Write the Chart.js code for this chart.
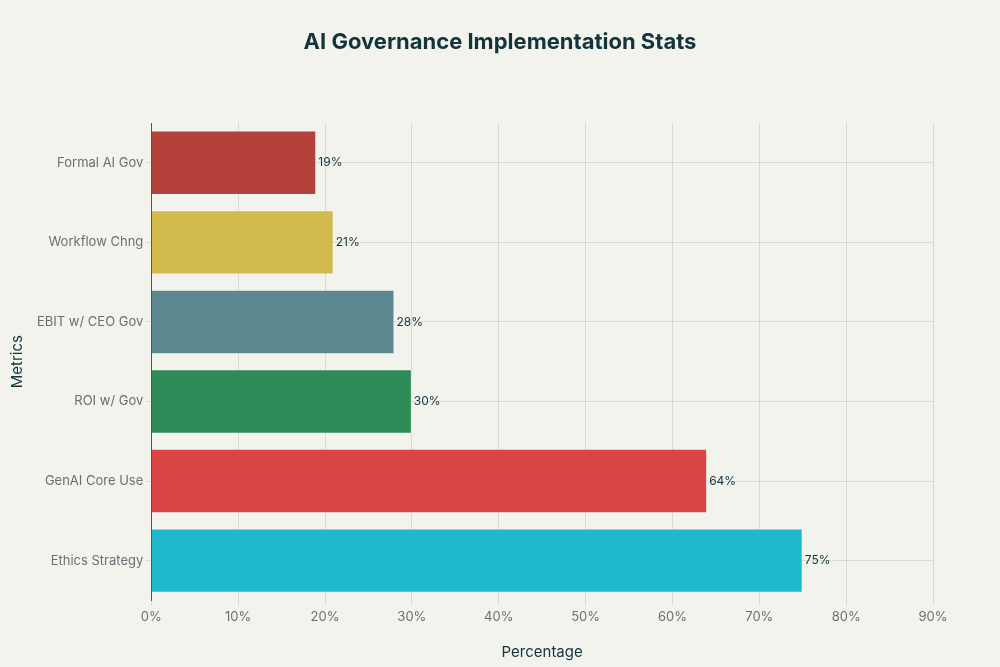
<!DOCTYPE html>
<html>
<head>
<meta charset="utf-8">
<script src="https://cdn.jsdelivr.net/npm/chart.js@4"></script>
<style>
	html, body { margin: 0; padding: 0; background: #F3F3EE; }
	#wrap { width: 1000px; height: 667px; position: relative; }
</style>
</head>
<body>
<div id="wrap"><canvas id="chart1"></canvas></div>
<script>
// 데이터
const chartTitle = 'AI Governance Implementation Stats';
const metrics = ['Formal AI Gov', 'Workflow Chng', 'EBIT w/ CEO Gov', 'ROI w/ Gov', 'GenAI Core Use', 'Ethics Strategy'];
const percentages = [19, 21, 28, 30, 64, 75];
const barColors = ['#B4413C', '#D2BA4C', '#5D878F', '#2E8B57', '#DB4545', '#1FB8CD'];

const fontFamily = 'Inter, "Liberation Sans", sans-serif';

// 막대 끝에 값 표시 + 캔버스 중앙에 제목
const valueLabels = {
	id: 'valueLabels',
	afterDatasetsDraw(chart) {
		const ctx = chart.ctx;
		ctx.save();
		ctx.font = '12px ' + fontFamily;
		ctx.fillStyle = '#13343B';
		ctx.textAlign = 'left';
		ctx.textBaseline = 'middle';
		chart.getDatasetMeta(0).data.forEach(function(bar, i) {
			ctx.fillText(percentages[i] + '%', bar.x + 2, bar.y);
		});

		ctx.font = 'bold 22px ' + fontFamily;
		ctx.textAlign = 'center';
		ctx.fillText(chartTitle, chart.width / 2, 42);
		ctx.restore();
	}
};

new Chart(document.getElementById('chart1'), {
	type: 'bar',
	data: {
		labels: metrics,
		datasets: [{
			data: percentages,
			backgroundColor: barColors,
			borderColor: 'rgba(255,255,255,0.35)',
			borderWidth: 1,
			barPercentage: 0.81,
			categoryPercentage: 1.0
		}]
	},
	options: {
		indexAxis: 'y',
		responsive: true,
		maintainAspectRatio: false,
		animation: false,
		layout: { padding: { top: 123, right: 67, bottom: 6, left: 8 } },
		plugins: {
			legend: { display: false },
			tooltip: { enabled: false },
			title: { display: false }
		},
		scales: {
			x: {
				min: 0,
				max: 90,
				ticks: {
					stepSize: 10,
					color: '#6B6F73',
					padding: 4,
					font: { family: fontFamily, size: 13 },
					callback: function(v) { return v + '%'; }
				},
				grid: { color: 'rgba(0,0,0,0.1)', tickLength: 5 },
				border: { display: false },
				title: {
					display: true,
					text: 'Percentage',
					color: '#13343B',
					font: { family: fontFamily, size: 15 },
					padding: { top: 14, bottom: 0 }
				}
			},
			y: {
				ticks: {
					color: '#6B6F73',
					font: { family: fontFamily, size: 13 },
					padding: 3
				},
				grid: { color: 'rgba(0,0,0,0.1)', offset: false, tickLength: 5 },
				border: { display: true, color: '#555', width: 1 },
				title: {
					display: true,
					text: 'Metrics',
					color: '#13343B',
					font: { family: fontFamily, size: 15 },
					padding: { top: 0, bottom: 8 }
				}
			}
		}
	},
	plugins: [valueLabels]
});
</script>
</body>
</html>
